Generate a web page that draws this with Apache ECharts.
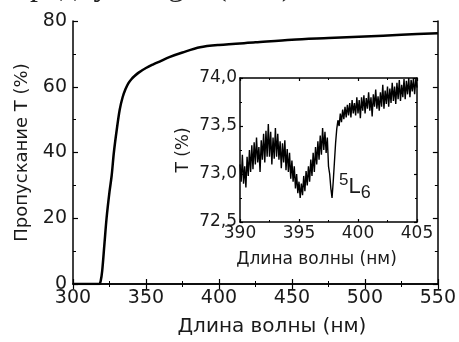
<!DOCTYPE html>
<html>
<head>
<meta charset="utf-8">
<script src="https://cdn.jsdelivr.net/npm/echarts@6/dist/echarts.min.js"></script>
<style>
  html, body { margin: 0; padding: 0; background: #fff; }
  #chart { width: 459px; height: 342px; }
</style>
</head>
<body>
<div id="chart"></div>
<script>
// основной спектр пропускания
const mainWl = [300, 310, 315, 318, 319, 320, 321.5, 323, 325, 326.5, 328, 330, 332, 334, 336, 338, 340, 342, 345, 350, 355, 360, 366, 375, 387, 400, 425, 450, 475, 500, 525, 550];
const mainT  = [0, 0, 0, 0, 1, 4, 12, 20, 28, 33, 40, 47, 53, 56.8, 59.3, 61.1, 62.3, 63.2, 64.3, 65.7, 66.8, 67.8, 69, 70.4, 72, 72.7, 73.5, 74.3, 74.8, 75.3, 75.8, 76.3];

// вставка 390-405 нм, шаг 0.1 нм
const insetStart = 390;
const insetStep = 0.1;
const insetT = [
  73.10, 72.92, 73.20, 72.90, 73.08, 72.86, 73.18, 72.98, 73.25, 73.02,
  73.30, 73.05, 73.33, 73.10, 73.38, 73.12, 73.28, 73.02, 73.35, 73.15,
  73.42, 73.12, 73.45, 73.18, 73.52, 73.18, 73.44, 73.10, 73.38, 73.16,
  73.48, 73.18, 73.42, 73.15, 73.34, 73.06, 73.32, 73.12, 73.35, 73.04,
  73.26, 73.02, 73.22, 72.95, 73.14, 72.92, 73.08, 72.85, 73.00, 72.80,
  72.92, 72.75, 72.90, 72.78, 72.98, 72.82, 73.03, 72.88, 73.08, 72.92,
  73.15, 72.98, 73.22, 73.02, 73.28, 73.10, 73.34, 73.15, 73.40, 73.20,
  73.48, 73.25, 73.44, 73.22, 73.38, 73.08, 73.00, 72.85, 72.75, 72.92,
  73.12, 73.32, 73.47, 73.56, 73.50, 73.63, 73.54, 73.67, 73.57, 73.70,
  73.59, 73.72, 73.61, 73.74, 73.59, 73.77, 73.63, 73.74, 73.61, 73.80,
  73.63, 73.77, 73.58, 73.80, 73.66, 73.82, 73.63, 73.79, 73.68, 73.85,
  73.66, 73.80, 73.60, 73.83, 73.70, 73.88, 73.68, 73.81, 73.66, 73.85,
  73.70, 73.93, 73.68, 73.87, 73.73, 73.91, 73.70, 73.89, 73.74, 73.95,
  73.76, 73.91, 73.73, 73.95, 73.78, 73.98, 73.76, 73.93, 73.80, 73.99,
  73.78, 73.97, 73.83, 74.00, 73.80, 73.98, 73.86, 74.00, 73.83, 73.99,
  73.90
];

const font = "DejaVu Sans";
const comma = v => v.toFixed(1).replace(".", ",");

const chart = echarts.init(document.getElementById("chart"));

const tickIn = (len) => ({ show: true, inside: true, length: len, lineStyle: { color: "#000", width: 1.2 } });
const minor = (len) => ({ show: true, splitNumber: 2, length: len, lineStyle: { color: "#000", width: 1 } });
const line = { show: true, lineStyle: { color: "#000", width: 1.5 } };

const option = {
  backgroundColor: "#fff",
  animation: false,
  textStyle: { fontFamily: font },
  grid: [
    { left: 73, top: 21, width: 365, height: 269, show: false },
    { left: 240, top: 78, width: 177, height: 144, show: false }
  ],
  xAxis: [
    {
      gridIndex: 0, type: "value", min: 300, max: 550, interval: 50,
      axisLine: line, axisTick: tickIn(5), splitLine: { show: false }, minorTick: minor(3),
      axisLabel: { color: "#1a1a1a", fontSize: 19, margin: 5, fontFamily: font },
      name: "Длина волны (нм)", nameLocation: "middle", nameGap: 33,
      nameTextStyle: { color: "#1a1a1a", fontSize: 20, fontFamily: font, padding: [0, 0, 0, 33] }
    },
    {
      gridIndex: 0, type: "value", min: 300, max: 550, interval: 50, position: "top",
      axisLine: line, axisTick: tickIn(5), splitLine: { show: false }, minorTick: minor(3),
      axisLabel: { show: false }
    },
    {
      gridIndex: 1, type: "value", min: 390, max: 405, interval: 5,
      axisLine: line, axisTick: tickIn(3), splitLine: { show: false }, minorTick: minor(2),
      axisLabel: { color: "#1a1a1a", fontSize: 17, margin: 3, fontFamily: font },
      name: "Длина волны (нм)", nameLocation: "middle", nameGap: 29,
      nameTextStyle: { color: "#1a1a1a", fontSize: 17, fontFamily: font, padding: [0, 24, 0, 0] }
    },
    {
      gridIndex: 1, type: "value", min: 390, max: 405, interval: 5, position: "top",
      axisLine: line, axisTick: tickIn(3), splitLine: { show: false }, minorTick: minor(2),
      axisLabel: { show: false }
    }
  ],
  yAxis: [
    {
      gridIndex: 0, type: "value", min: 0, max: 80, interval: 20,
      axisLine: line, axisTick: tickIn(5), splitLine: { show: false }, minorTick: minor(3),
      axisLabel: { color: "#1a1a1a", fontSize: 19, margin: 6, fontFamily: font },
      name: "Пропускание T (%)", nameLocation: "middle", nameGap: 42,
      nameTextStyle: { color: "#1a1a1a", fontSize: 18, fontFamily: font }
    },
    {
      gridIndex: 0, type: "value", min: 0, max: 80, interval: 20, position: "right",
      axisLine: line, axisTick: tickIn(5), splitLine: { show: false }, minorTick: minor(3),
      axisLabel: { show: false }
    },
    {
      gridIndex: 1, type: "value", min: 72.5, max: 74.0, interval: 0.5,
      axisLine: line, axisTick: tickIn(3), splitLine: { show: false }, minorTick: minor(2),
      axisLabel: { color: "#1a1a1a", fontSize: 17, margin: 3, fontFamily: font, formatter: comma },
      name: "T (%)", nameLocation: "middle", nameGap: 48,
      nameTextStyle: { color: "#1a1a1a", fontSize: 17, fontFamily: font }
    },
    {
      gridIndex: 1, type: "value", min: 72.5, max: 74.0, interval: 0.5, position: "right",
      axisLine: line, axisTick: tickIn(3), splitLine: { show: false }, minorTick: minor(2),
      axisLabel: { show: false }
    }
  ],
  series: [
    {
      type: "line", xAxisIndex: 0, yAxisIndex: 0, smooth: 0.3, symbol: "none",
      lineStyle: { color: "#000", width: 2.5 },
      data: mainWl.map((w, i) => [w, mainT[i]])
    },
    {
      type: "line", xAxisIndex: 2, yAxisIndex: 2, symbol: "none",
      lineStyle: { color: "#000", width: 1.4 },
      data: insetT.map((t, i) => [insetStart + i * insetStep, t])
    }
  ],
  graphic: [
    {
      type: "text", left: 339, top: 172,
      style: {
        text: "{s|5}{b|L}{d|6}", fontFamily: font,
        rich: {
          s: { fontSize: 17, fill: "#1a1a1a", padding: [0, 0, 12, 0] },
          b: { fontSize: 22, fill: "#1a1a1a" },
          d: { fontSize: 18, fill: "#1a1a1a", padding: [14, 0, 0, 0] }
        }
      }
    },
    // обрывок строки текста над рисунком
    { type: "text", left: 30, top: -29, style: { text: "радиус", fontFamily: "Liberation Serif", fontSize: 32, fill: "#222" } },
    { type: "text", left: 168, top: -29, style: { text: "g", fontFamily: "Liberation Serif", fontSize: 32, fill: "#222" } },
    { type: "text", left: 216, top: -29, style: { text: "(см⁻¹).", fontFamily: "Liberation Serif", fontSize: 32, fill: "#222" } }
  ]
};

chart.setOption(option);
</script>
</body>
</html>
